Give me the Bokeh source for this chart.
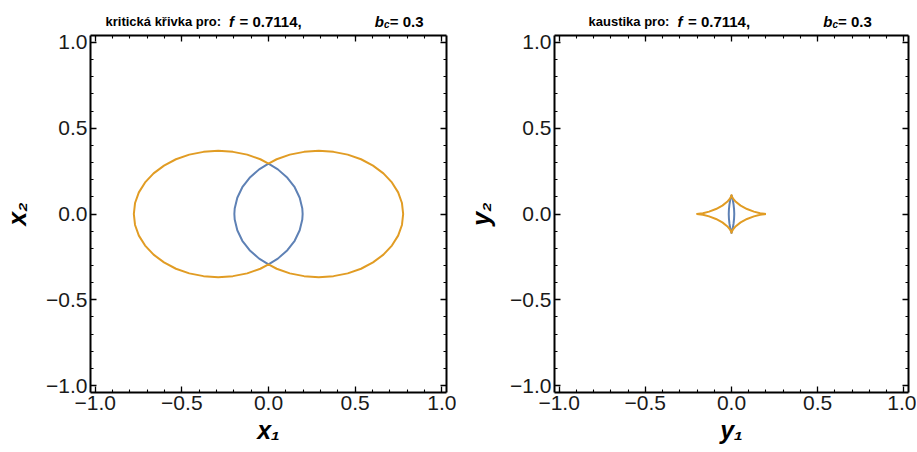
from bokeh.plotting import figure
from bokeh.models import Range1d, LinearAxis, FixedTicker, Label
from bokeh.layouts import row, column
from bokeh.embed import file_html
from bokeh.resources import INLINE

# ---------------- data ----------------
f_value = "0.7114"
bc_value = "0.3"

# critical curve, outer (orange) boundary: left ellipse outer arc + right ellipse outer arc
crit_orange_x = [0.000, -0.047, -0.123, -0.205, -0.290, -0.375, -0.457, -0.534, -0.603, -0.663, -0.712, -0.748, -0.770,
                 -0.777, -0.770, -0.748, -0.712, -0.663, -0.603, -0.534, -0.457, -0.375, -0.290, -0.205, -0.123, -0.047,
                 0.000, 0.047, 0.123, 0.205, 0.290, 0.375, 0.457, 0.534, 0.603, 0.663, 0.712, 0.748, 0.770,
                 0.777, 0.770, 0.748, 0.712, 0.663, 0.603, 0.534, 0.457, 0.375, 0.290, 0.205, 0.123, 0.047, 0.000]
crit_orange_y = [0.294, 0.319, 0.346, 0.362, 0.368, 0.362, 0.346, 0.319, 0.282, 0.237, 0.184, 0.126, 0.064,
                 0.000, -0.064, -0.126, -0.184, -0.237, -0.282, -0.319, -0.346, -0.362, -0.368, -0.362, -0.346, -0.319,
                 -0.294, -0.319, -0.346, -0.362, -0.368, -0.362, -0.346, -0.319, -0.282, -0.237, -0.184, -0.126, -0.064,
                 0.000, 0.064, 0.126, 0.184, 0.237, 0.282, 0.319, 0.346, 0.362, 0.368, 0.362, 0.346, 0.319, 0.294]

# critical curve, inner (blue) lens
crit_blue_x = [0.000, 0.054, 0.109, 0.151, 0.180, 0.195, 0.197, 0.195, 0.180, 0.151, 0.109, 0.054,
               0.000, -0.054, -0.109, -0.151, -0.180, -0.195, -0.197, -0.195, -0.180, -0.151, -0.109, -0.054, 0.000]
crit_blue_y = [0.294, 0.260, 0.211, 0.156, 0.095, 0.032, 0.000, -0.032, -0.095, -0.156, -0.211, -0.260,
               -0.294, -0.260, -0.211, -0.156, -0.095, -0.032, 0.000, 0.032, 0.095, 0.156, 0.211, 0.260, 0.294]

# caustic, orange astroid-like curve
caus_orange_x = [0.200, 0.191, 0.166, 0.130, 0.090, 0.053, 0.025, 0.008, 0.001, 0.000,
                 -0.001, -0.008, -0.025, -0.053, -0.090, -0.130, -0.166, -0.191, -0.200,
                 -0.191, -0.166, -0.130, -0.090, -0.053, -0.025, -0.008, -0.001, 0.000,
                 0.001, 0.008, 0.025, 0.053, 0.090, 0.130, 0.166, 0.191, 0.200]
caus_orange_y = [0.000, 0.001, 0.004, 0.014, 0.029, 0.049, 0.071, 0.091, 0.105, 0.110,
                 0.105, 0.091, 0.071, 0.049, 0.029, 0.014, 0.004, 0.001, 0.000,
                 -0.001, -0.004, -0.014, -0.029, -0.049, -0.071, -0.091, -0.105, -0.110,
                 -0.105, -0.091, -0.071, -0.049, -0.029, -0.014, -0.004, -0.001, 0.000]

# caustic, blue narrow lens
caus_blue_x = [0.000, 0.007, 0.012, 0.015, 0.016, 0.015, 0.012, 0.007, 0.000,
               -0.007, -0.012, -0.015, -0.016, -0.015, -0.012, -0.007, 0.000]
caus_blue_y = [0.110, 0.085, 0.055, 0.025, 0.000, -0.025, -0.055, -0.085, -0.110,
               -0.085, -0.055, -0.025, 0.000, 0.025, 0.055, 0.085, 0.110]

major_ticks = [-1.0, -0.5, 0.0, 0.5, 1.0]
minor_ticks = [-1.0, -0.9, -0.8, -0.7, -0.6, -0.5, -0.4, -0.3, -0.2, -0.1, 0.0,
               0.1, 0.2, 0.3, 0.4, 0.5, 0.6, 0.7, 0.8, 0.9, 1.0]
tick_labels = ["\u22121.0", "\u22120.5", "0.0", "0.5", "1.0"]

# ---------------- styling / layout ----------------
BLUE = "#5E81B5"
ORANGE = "#E19C24"
FONT = "Liberation Sans"
XR, YR = 1.027, 1.04

TITLE_H = 30      # picture y 0..30
TOP_B = 5         # 30..35
FH = 357          # 35..392
BOT_B = 60        # 392..452


def style_axis(ax, labels):
    ax.ticker = FixedTicker(ticks=major_ticks, minor_ticks=minor_ticks)
    ax.axis_line_color = "black"
    ax.axis_line_width = 2
    ax.major_tick_in = 6
    ax.major_tick_out = 0
    ax.minor_tick_in = 3
    ax.minor_tick_out = 0
    ax.major_tick_line_color = "black"
    ax.minor_tick_line_color = "black"
    ax.major_tick_line_width = 1.3
    ax.minor_tick_line_width = 1.1
    if labels:
        ax.major_label_overrides = dict(zip(major_ticks, tick_labels))
        ax.major_label_text_font = FONT
        ax.major_label_text_font_size = "21px"
        ax.major_label_text_color = "#1a1a1a"
        ax.major_label_standoff = 3
        ax.axis_label_text_font = FONT
        ax.axis_label_text_font_size = "25px"
        ax.axis_label_text_font_style = "bold italic"
        ax.axis_label_text_color = "black"
    else:
        ax.major_label_overrides = dict(zip(major_ticks, [""] * len(major_ticks)))
        ax.major_label_text_font_size = "1px"
        ax.major_label_standoff = 0


def make_plot(left, fw, right, curves, letter):
    p = figure(frame_width=fw, frame_height=FH,
               x_range=Range1d(-XR, XR), y_range=Range1d(-YR, YR),
               min_border_left=left, min_border_right=right,
               min_border_top=TOP_B, min_border_bottom=BOT_B,
               output_backend="svg", toolbar_location=None, title_location=None,
               background_fill_color="white", border_fill_color="white",
               outline_line_color=None)
    p.grid.visible = False
    p.add_layout(LinearAxis(), "above")
    p.add_layout(LinearAxis(), "right")
    bottom_ax = p.below[0]
    left_ax = p.left[0]
    style_axis(bottom_ax, True)
    style_axis(left_ax, True)
    for ax in p.above + p.right:
        style_axis(ax, False)
    bottom_ax.axis_label = letter + "\u2081"
    bottom_ax.axis_label_standoff = 3
    left_ax.axis_label = letter + "\u2082"
    left_ax.axis_label_standoff = 12
    for (xs, ys, col) in curves:
        p.line(xs, ys, line_color=col, line_width=2, line_join="round")
    return p


# left panel: frame at picture x 87..443 ; right panel frame 551..905
p1 = make_plot(87, 356, 10,
               [(crit_blue_x, crit_blue_y, BLUE), (crit_orange_x, crit_orange_y, ORANGE)], "x")
p2 = make_plot(98, 354, 8,
               [(caus_blue_x, caus_blue_y, BLUE), (caus_orange_x, caus_orange_y, ORANGE)], "y")

# title strip covering both panels (coordinates = pixels from the strip's bottom)
TW = 913
t = figure(width=TW, height=TITLE_H, x_range=Range1d(0, TW), y_range=Range1d(0, TITLE_H),
           x_axis_type=None, y_axis_type=None, min_border=0,
           output_backend="svg", toolbar_location=None, title_location=None,
           background_fill_color="white", border_fill_color="white",
           outline_line_color=None)


def put(x, y, text, size, style):
    t.add_layout(Label(x=x, y=y, text=text, text_font=FONT, text_font_size=size,
                       text_font_style=style, text_color="black", text_align="left",
                       text_baseline="alphabetic"))


BASE = TITLE_H - 21
for (x0, main, shift) in [(105, "kritická křivka pro:", 0.0), (588, "kaustika pro:", 448.4)]:
    put(x0, BASE, main, "13px", "bold")
    put(228.6 + shift, BASE, "f", "15px", "bold italic")
    put(239 + shift, BASE, "=", "15px", "bold")
    put(252 + shift, BASE, f_value + ",", "15px", "bold")
    put(374.3 + shift, BASE, "b", "15px", "bold italic")
    put(383.5 + shift, BASE - 3, "c", "10px", "bold italic")
    put(389.2 + shift, BASE, "= " + bc_value, "15px", "bold")

layout = column(t, row(p1, p2))
open("out.html", "w").write(file_html(layout, INLINE))
